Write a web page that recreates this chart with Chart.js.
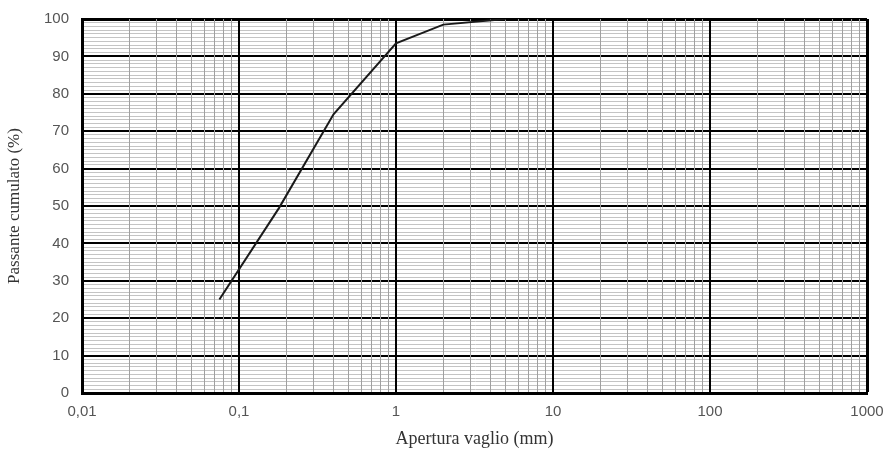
<!DOCTYPE html>
<html>
<head>
<meta charset="utf-8">
<script src="https://cdn.jsdelivr.net/npm/chart.js@4"></script>
<style>
  body { margin: 0; background: #fff; }
</style>
</head>
<body>
<canvas id="myChart" width="887" height="452"></canvas>
<script>
// curva granulometrica
const aperture = [0.075, 0.18, 0.4, 1, 2, 5];      // mm
const passante = [25, 49.5, 74.5, 93.5, 98.5, 100]; // %
const decadi = [0.01, 0.1, 1, 10, 100, 1000];
const decadeLabels = ['0,01', '0,1', '1', '10', '100', '1000'];

// tacche: 1..9 per ogni decade
const xTicks = [];
decadi.forEach((d, i) => {
  if (i === decadi.length - 1) { xTicks.push(d); return; }
  for (let k = 1; k <= 9; k++) xTicks.push(+(d * k).toPrecision(3));
});

function isDecade(v) {
  return decadi.some(d => Math.abs(v - d) / d < 1e-6);
}

const ctx = document.getElementById('myChart');

new Chart(ctx, {
  type: 'line',
  data: {
    datasets: [{
      data: aperture.map((x, i) => ({ x: x, y: passante[i] })),
      borderColor: '#1a1a1a',
      borderWidth: 2,
      pointRadius: 0,
      tension: 0,
      fill: false
    }]
  },
  options: {
    responsive: false,
    animation: false,
    layout: { padding: { top: 19, right: 20, left: 0, bottom: 0 } },
    plugins: {
      legend: { display: false },
      tooltip: { enabled: false }
    },
    scales: {
      // y prima di x, cosi' le linee verticali stanno sopra
      y: {
        min: 0,
        max: 100,
        afterFit: (scale) => {
          scale.width = 82;
          scale.paddingTop = 0;
          scale.paddingBottom = 0;
        },
        border: { display: true, color: '#000', width: 3 },
        grid: {
          drawTicks: false,
          color: (c) => c.tick.value % 10 === 0 ? '#000' : '#c4c4c4',
          lineWidth: (c) => {
            if (c.tick.value === 100) return 3;
            return c.tick.value % 10 === 0 ? 2 : 1;
          }
        },
        ticks: {
          stepSize: 1,
          autoSkip: false,
          padding: 13,
          color: '#555',
          font: { family: 'Liberation Sans', size: 15 },
          callback: (v) => v % 10 === 0 ? v : ''
        },
        title: {
          display: true,
          text: 'Passante cumulato (%)',
          color: '#333',
          font: { family: 'Liberation Serif', size: 17 },
          padding: { top: 4, bottom: 4 }
        }
      },
      x: {
        type: 'logarithmic',
        min: 0.01,
        max: 1000,
        afterBuildTicks: (scale) => {
          scale.ticks = xTicks.map(v => ({ value: v, major: isDecade(v) }));
        },
        afterFit: (scale) => {
          scale.height = 59;
          scale.paddingLeft = 0;
          scale.paddingRight = 0;
        },
        border: { display: true, color: '#000', width: 3 },
        grid: {
          drawTicks: false,
          color: (c) => isDecade(c.tick.value) ? '#000' : '#a0a0a0',
          lineWidth: (c) => {
            if (c.tick.value >= 1000) return 3;
            return isDecade(c.tick.value) ? 2 : 1;
          }
        },
        ticks: {
          autoSkip: false,
          maxRotation: 0,
          padding: 10,
          color: '#555',
          font: { family: 'Liberation Sans', size: 15 },
          callback: (v) => {
            const i = decadi.findIndex(d => Math.abs(v - d) / d < 1e-6);
            return i >= 0 ? decadeLabels[i] : '';
          }
        },
        title: {
          display: true,
          text: 'Apertura vaglio (mm)',
          color: '#333',
          font: { family: 'Liberation Serif', size: 18 },
          padding: { top: 4, bottom: 2 }
        }
      }
    }
  }
});
</script>
</body>
</html>
